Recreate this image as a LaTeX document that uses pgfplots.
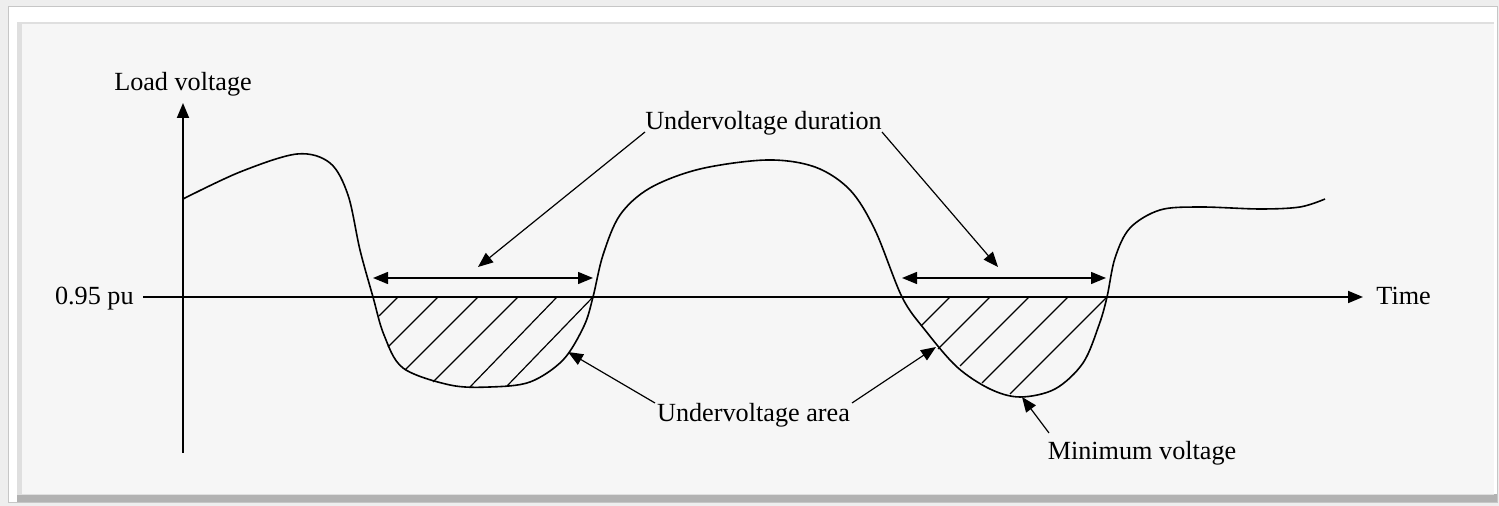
\documentclass[border=0pt]{standalone}
\usepackage{fontspec}
\setmainfont{Liberation Serif}
\usepackage{pgfplots}
\pgfplotsset{compat=1.18}
\usetikzlibrary{arrows.meta}

\definecolor{panel}{HTML}{F6F6F6}
\definecolor{outer}{HTML}{EEEEEE}

\tikzset{
  lbl/.style={font=\fontsize{13.1}{15}\selectfont, inner sep=0pt},
  tip/.style={-{Triangle[length=7.5pt,width=6pt]}},
  dbl/.style={{Triangle[length=7.5pt,width=6pt]}-{Triangle[length=7.5pt,width=6pt]}},
}

\begin{document}
\begin{tikzpicture}
\begin{axis}[
    scale only axis,
    width=749.5pt, height=253pt,
    xmin=0, xmax=1499, ymin=0, ymax=506,
    y dir=reverse,
    hide axis,
    clip=false,
    unbounded coords=jump,
  ]
  % frame (pixel coordinates, y down)
  \fill[outer] (axis cs:0,0) rectangle (axis cs:1499,506);
  \fill[white, draw=gray!45, line width=0.4pt] (axis cs:8,6) rectangle (axis cs:1497,502);
  \fill[gray!60] (axis cs:17,494) rectangle (axis cs:1497,502);
  \fill[gray!25] (axis cs:17,22) rectangle (axis cs:1494,495);
  \fill[panel] (axis cs:22,24) rectangle (axis cs:1494,494);

  % axes
  \draw[tip, line width=0.9pt] (axis cs:183,453) -- (axis cs:183,103);
  \draw[tip, line width=0.9pt] (axis cs:143,297) -- (axis cs:1363,297);

  % load voltage curve
  \addplot[black, line width=0.8pt, smooth, tension=0.55] coordinates {
    (183,199) (240,172) (297,154) (330,163) (348,195) (360,250)
    (373,297) (384,335) (403,368) (450,385) (490,387) (530,382)
    (563,360) (584,326) (593,297) (603,255) (620,215) (650,188)
    (700,169) (767,160) (815,167) (850,190) (875,230) (902,297)
    (925,330) (957,367) (990,389) (1020,397) (1055,389) (1083,363)
    (1099,325) (1107,297) (1115,258) (1130,228) (1160,210) (1200,207)
    (1260,209) (1300,207) (1325,199)
  };

  % hatching of the undervoltage areas
  \addplot[black, line width=0.6pt] coordinates {
    (398,297) (379,316) (nan,nan)
    (438,297) (388,347) (nan,nan)
    (478,297) (405,370) (nan,nan)
    (518,297) (433,382) (nan,nan)
    (557,297) (470,387) (nan,nan)
    (593,297) (507,386) (nan,nan)
    (950,297) (921,326) (nan,nan)
    (990,297) (938,349) (nan,nan)
    (1029,297) (960,366) (nan,nan)
    (1068,297) (982,383) (nan,nan)
    (1107,297) (1010,394)
  };

  % duration arrows
  \draw[dbl, line width=0.7pt] (axis cs:373,278) -- (axis cs:593,278);
  \draw[dbl, line width=0.7pt] (axis cs:902,278) -- (axis cs:1106,278);

  % annotation leaders
  \draw[tip, line width=0.6pt] (axis cs:645,132) -- (axis cs:478,267);
  \draw[tip, line width=0.6pt] (axis cs:882,132) -- (axis cs:998,267);
  \draw[tip, line width=0.6pt] (axis cs:655,403) -- (axis cs:568,352);
  \draw[tip, line width=0.6pt] (axis cs:852,403) -- (axis cs:936,347);
  \draw[tip, line width=0.6pt] (axis cs:1049,433) -- (axis cs:1022,397);

  % labels
  \node[lbl, anchor=base] at (axis cs:183,91) {Load voltage};
  \node[lbl, anchor=base east] at (axis cs:134,305) {0.95 pu};
  \node[lbl, anchor=base west] at (axis cs:1376,305) {Time};
  \node[lbl, anchor=base] at (axis cs:763.5,130) {Undervoltage duration};
  \node[lbl, anchor=base] at (axis cs:753.5,422) {Undervoltage area};
  \node[lbl, anchor=base] at (axis cs:1142,460) {Minimum voltage};
\end{axis}
\end{tikzpicture}
\end{document}
